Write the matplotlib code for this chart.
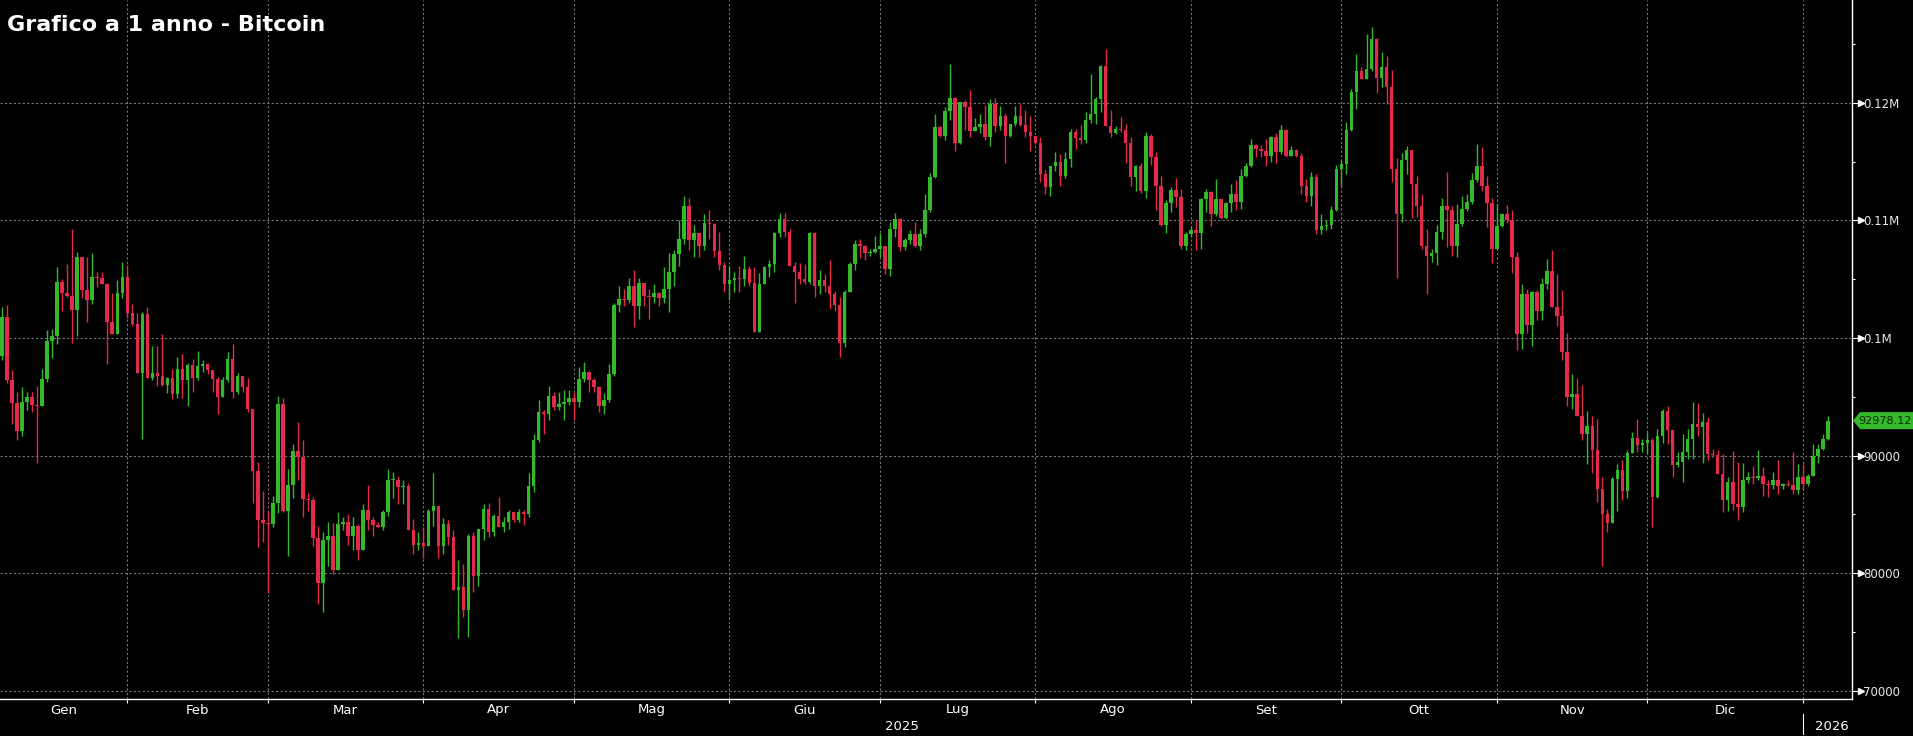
import numpy as np
import pandas as pd
import matplotlib

matplotlib.use("Agg")
import matplotlib.pyplot as plt  # noqa: E402
from matplotlib.patches import Polygon  # noqa: E402
from matplotlib.transforms import blended_transform_factory  # noqa: E402

# === Dati (migliaia di USD, candele giornaliere) ===
START_DATE = "2025-01-06"
TITLE = "Grafico a 1 anno - Bitcoin"

opens_k = [
    98.47, 101.82, 96.43, 94.5, 92.1, 94.6, 95.0, 94.3, 94.2, 96.5,
    99.75, 100.2, 104.8, 103.8, 103.6, 102.4, 106.9, 104.1, 103.2, 105.2,
    105.1, 104.6, 101.4, 100.3, 103.8, 105.2, 102.1, 101.2, 97.0, 102.0,
    96.6, 97.0, 96.8, 96.0, 96.6, 95.2, 97.4, 96.4, 97.7, 96.6,
    97.6, 97.8, 97.3, 96.5, 95.0, 96.4, 98.2, 95.4, 96.8, 95.8,
    94.0, 88.7, 84.5, 84.25, 84.2, 86.0, 94.4, 85.3, 87.5, 90.4,
    89.9, 86.3, 86.2, 83.0, 79.2, 82.8, 83.2, 80.3, 84.2, 84.4,
    83.2, 84.0, 82.0, 85.4, 84.5, 84.1, 83.9, 85.2, 87.9, 87.95,
    87.3, 87.4, 83.7, 82.4, 82.6, 82.3, 85.3, 85.7, 82.3, 84.2,
    83.1, 78.6, 78.8, 76.9, 83.2, 79.8, 83.8, 85.5, 83.5, 84.9,
    83.9, 84.4, 85.2, 84.5, 85.2, 85.0, 87.4, 91.3, 93.7, 93.5,
    95.1, 94.1, 94.4, 94.6, 94.9, 94.6, 96.5, 97.1, 96.4, 95.8,
    94.2, 94.7, 96.9, 102.8, 103.3, 103.2, 104.4, 102.7, 104.7, 103.6,
    103.5, 103.8, 103.4, 104.2, 105.6, 107.1, 108.4, 111.2, 108.3, 108.9,
    107.8, 109.75, 109.7, 107.4, 106.2, 104.6, 104.9, 105.1, 105.0, 105.9,
    104.7, 100.5, 104.6, 106.0, 106.3, 108.9, 110.1, 109.0, 106.1, 105.6,
    105.0, 104.8, 108.95, 104.4, 104.9, 104.4, 103.7, 102.8, 99.6, 103.9,
    106.3, 108.0, 107.8, 107.2, 107.3, 107.6, 107.8, 105.9, 109.3, 110.1,
    107.7, 108.3, 108.8, 107.8, 108.8, 110.9, 113.7, 117.9, 117.2, 119.3,
    120.4, 116.55, 120.1, 119.6, 117.6, 117.9, 118.2, 117.1, 119.9, 118.0,
    118.9, 117.2, 118.2, 118.9, 118.1, 117.5, 117.2, 116.6, 113.9, 112.8,
    114.6, 115.0, 113.8, 115.2, 117.5, 117.0, 116.8, 118.5, 119.0, 120.3,
    123.1, 118.0, 117.4, 117.8, 117.7, 116.6, 113.7, 114.6, 112.5, 117.2,
    115.4, 112.9, 109.6, 111.5, 112.6, 112.0, 107.8, 108.8, 109.2, 108.95,
    111.8, 112.4, 110.5, 111.8, 110.2, 111.5, 112.2, 111.6, 113.8, 114.6,
    116.4, 116.1, 115.9, 115.5, 117.1, 115.8, 117.7, 115.5, 116.0, 115.5,
    112.9, 112.1, 113.7, 109.2, 109.5, 109.6, 110.9, 114.4, 114.8, 117.7,
    120.9, 122.7, 122.0, 122.9, 125.4, 122.1, 123.0, 121.3, 114.4, 110.5,
    115.1, 116.0, 113.1, 111.2, 107.8, 107.0, 107.2, 109.0, 111.2, 110.9,
    107.8, 109.7, 111.0, 111.6, 113.4, 114.6, 112.9, 111.5, 107.6, 109.5,
    110.5, 110.0, 106.9, 100.3, 103.7, 101.1, 103.9, 102.3, 104.6, 105.7,
    102.6, 101.9, 98.8, 95.0, 95.2, 93.4, 91.8, 92.5, 90.5, 87.2,
    85.0, 84.3, 88.0, 88.8, 87.0, 90.2, 91.5, 90.9, 91.1, 91.3,
    86.5, 91.7, 93.8, 92.2, 89.2, 89.5, 90.3, 91.4, 92.7, 92.4,
    92.9, 90.1, 90.05, 88.4, 86.2, 87.8, 85.9, 85.6, 87.9, 88.2,
    88.1, 88.3, 87.6, 87.5, 87.9, 87.4, 87.6, 87.5, 87.1, 88.2,
    87.6, 88.3, 90.0, 90.6, 91.4,
]

highs_k = [
    102.67, 102.8, 97.3, 95.4, 95.8, 95.4, 95.4, 95.9, 97.4, 100.7,
    100.8, 106.0, 105.0, 106.3, 109.3, 107.3, 106.9, 106.9, 107.2, 105.6,
    105.6, 104.7, 103.8, 104.9, 106.5, 106.2, 102.9, 102.1, 102.2, 102.6,
    99.3, 99.3, 100.3, 96.7, 97.4, 98.4, 98.6, 97.9, 98.2, 98.9,
    98.1, 97.9, 97.3, 96.7, 96.7, 98.8, 99.5, 97.0, 96.8, 96.6,
    94.0, 89.5, 87.0, 85.2, 86.6, 95.1, 94.9, 88.9, 91.0, 92.9,
    91.3, 86.8, 86.5, 84.0, 83.5, 84.4, 84.3, 85.2, 84.8, 85.0,
    84.8, 84.2, 85.9, 87.5, 84.8, 84.4, 85.4, 88.9, 88.6, 88.3,
    87.9, 87.7, 84.6, 83.5, 83.9, 85.5, 88.5, 85.7, 84.7, 84.5,
    83.7, 81.1, 80.8, 83.3, 83.5, 83.8, 85.9, 86.0, 85.0, 86.5,
    84.8, 85.4, 85.2, 85.5, 85.4, 88.5, 91.8, 94.7, 93.9, 95.9,
    95.4, 95.4, 95.6, 95.6, 95.4, 97.5, 98.0, 97.2, 96.6, 95.9,
    95.3, 97.8, 102.95, 104.4, 104.2, 105.1, 105.8, 105.1, 104.7, 104.2,
    104.6, 103.9, 106.0, 107.2, 107.5, 110.0, 112.1, 111.9, 109.6, 108.9,
    110.5, 110.9, 109.8, 109.0, 106.5, 106.1, 105.6, 106.1, 107.0, 106.1,
    106.0, 105.5, 106.1, 106.6, 109.0, 110.6, 110.6, 109.3, 106.5, 106.4,
    106.3, 109.0, 109.0, 105.8, 105.4, 106.6, 104.0, 103.5, 104.1, 106.5,
    108.3, 108.4, 107.9, 107.6, 108.7, 108.9, 107.8, 109.9, 110.6, 110.2,
    108.5, 109.2, 109.9, 109.3, 112.2, 114.0, 119.0, 118.0, 119.6, 123.3,
    120.5, 120.1, 120.2, 121.1, 118.7, 119.0, 119.8, 120.3, 120.4, 119.7,
    119.1, 118.2, 119.7, 119.9, 119.4, 118.9, 117.2, 117.1, 114.3, 114.6,
    115.8, 115.6, 115.8, 117.8, 117.8, 118.1, 119.2, 122.4, 120.5, 123.2,
    124.6, 119.4, 118.0, 118.8, 118.2, 117.1, 114.7, 114.9, 117.5, 117.3,
    115.8, 113.8, 111.7, 112.8, 113.6, 112.7, 109.0, 109.5, 110.0, 111.9,
    112.7, 112.5, 113.5, 111.8, 111.6, 113.1, 113.4, 114.4, 114.9, 116.9,
    116.5, 116.4, 116.9, 117.2, 117.4, 118.1, 117.8, 116.3, 116.1, 115.7,
    113.5, 114.1, 113.9, 110.5, 110.0, 111.2, 114.7, 115.1, 118.4, 121.2,
    124.1, 123.0, 125.8, 126.4, 125.5, 124.3, 124.0, 122.8, 115.3, 115.7,
    116.3, 116.0, 113.8, 112.2, 109.3, 107.6, 109.6, 111.9, 114.1, 111.2,
    111.4, 112.1, 112.2, 114.0, 116.5, 116.2, 113.8, 111.9, 111.4, 110.6,
    111.3, 110.9, 107.3, 104.6, 104.2, 104.0, 104.1, 105.1, 106.7, 107.5,
    105.4, 104.1, 100.4, 96.9, 96.6, 96.0, 93.8, 93.4, 93.1, 88.2,
    85.5, 88.2, 89.3, 89.6, 90.5, 92.0, 93.1, 91.4, 92.0, 91.5,
    92.3, 94.0, 94.2, 92.2, 90.3, 91.8, 92.3, 94.6, 94.5, 93.6,
    93.3, 90.6, 90.5, 90.1, 88.2, 90.4, 89.5, 89.4, 88.6, 89.1,
    90.5, 89.0, 87.9, 88.6, 89.6, 87.7, 87.9, 90.3, 89.3, 89.3,
    88.4, 91.0, 91.0, 91.8, 93.4,
]

lows_k = [
    98.13, 96.2, 92.7, 91.3, 91.7, 93.9, 93.7, 89.4, 94.2, 96.3,
    98.3, 99.5, 102.3, 103.5, 99.6, 100.2, 103.4, 101.4, 102.9, 104.3,
    104.6, 97.8, 100.3, 100.3, 103.4, 101.7, 101.0, 97.0, 91.4, 96.6,
    96.4, 95.9, 95.9, 95.3, 94.8, 94.9, 94.9, 94.2, 95.4, 96.4,
    97.1, 96.9, 95.4, 93.5, 95.0, 96.3, 94.9, 95.2, 95.4, 93.7,
    86.0, 82.2, 82.7, 78.3, 83.9, 85.1, 85.2, 81.5, 86.4, 87.9,
    84.8, 85.3, 82.3, 77.4, 76.7, 80.6, 79.9, 80.3, 83.7, 82.4,
    82.0, 81.1, 82.0, 83.7, 83.2, 83.9, 83.7, 84.9, 86.4, 85.9,
    85.9, 83.7, 81.6, 82.0, 81.3, 82.3, 84.0, 81.3, 81.6, 82.4,
    78.6, 74.5, 76.3, 74.6, 78.4, 78.9, 82.8, 83.1, 83.2, 83.9,
    83.5, 83.8, 84.4, 84.4, 84.1, 84.8, 86.9, 91.2, 91.8, 93.0,
    93.9, 93.9, 93.0, 94.3, 93.0, 94.1, 96.3, 95.4, 95.4, 93.7,
    93.5, 94.6, 96.8, 102.2, 102.7, 102.95, 100.9, 101.6, 102.7, 101.6,
    102.95, 102.7, 103.0, 102.2, 104.4, 106.1, 108.0, 107.5, 106.9, 106.9,
    107.5, 108.4, 106.9, 105.8, 103.9, 103.2, 103.9, 103.9, 104.4, 104.4,
    100.5, 100.5, 104.6, 105.2, 105.6, 108.6, 108.6, 106.1, 102.95, 104.6,
    104.6, 104.6, 103.5, 103.7, 103.9, 102.5, 102.3, 98.4, 99.2, 103.9,
    105.8, 106.8, 106.6, 107.0, 107.2, 106.9, 105.4, 105.3, 108.6, 107.4,
    107.5, 108.0, 107.7, 107.5, 108.6, 110.7, 113.6, 117.1, 116.8, 118.5,
    115.9, 116.5, 117.7, 117.1, 117.6, 117.4, 116.8, 116.3, 117.5, 117.7,
    114.9, 117.1, 118.0, 118.0, 117.1, 115.9, 116.5, 113.3, 112.2, 112.1,
    114.2, 112.9, 113.6, 114.5, 116.1, 116.5, 116.6, 118.3, 118.2, 119.2,
    118.0, 117.1, 117.3, 117.5, 114.9, 112.9, 112.5, 112.3, 111.9, 114.7,
    110.9, 109.5, 108.9, 110.7, 111.1, 107.6, 107.5, 108.6, 107.5, 107.6,
    110.7, 109.5, 110.4, 110.1, 110.1, 110.7, 110.9, 111.0, 113.7, 114.5,
    115.4, 115.4, 114.6, 115.0, 114.9, 115.6, 115.4, 115.5, 115.4, 112.2,
    111.6, 111.2, 108.8, 108.8, 109.2, 109.3, 110.8, 112.9, 113.9, 117.6,
    119.5, 122.0, 122.0, 122.7, 120.8, 121.3, 119.9, 113.3, 105.1, 109.9,
    113.9, 110.2, 110.3, 107.6, 103.7, 106.5, 106.2, 108.4, 107.7, 107.0,
    106.9, 109.5, 110.8, 111.4, 113.3, 112.5, 109.4, 106.4, 107.6, 109.4,
    109.8, 105.5, 99.0, 99.1, 100.4, 99.3, 101.5, 101.5, 104.2, 102.6,
    101.0, 98.1, 94.2, 94.0, 93.4, 91.3, 89.3, 88.5, 86.1, 80.6,
    83.5, 84.3, 85.3, 86.2, 86.4, 90.2, 90.3, 90.3, 90.2, 83.9,
    86.4, 91.1, 91.0, 88.2, 89.0, 87.8, 89.7, 89.7, 91.7, 89.4,
    89.6, 89.9, 88.4, 85.2, 85.3, 85.4, 84.5, 85.2, 87.7, 87.6,
    87.9, 86.6, 86.5, 87.2, 86.7, 87.2, 87.4, 86.7, 86.7, 87.1,
    87.4, 88.3, 89.4, 90.5, 91.3,
]

closes_k = [
    101.82, 96.43, 94.5, 92.1, 94.6, 95.0, 94.3, 94.2, 96.5, 99.75,
    100.2, 104.8, 103.8, 103.6, 102.4, 106.9, 104.1, 103.2, 105.2, 105.1,
    104.6, 101.4, 100.3, 103.8, 105.2, 102.1, 101.2, 97.0, 102.0, 96.6,
    97.0, 96.8, 96.0, 96.6, 95.2, 97.4, 96.4, 97.7, 96.6, 97.6,
    97.8, 97.3, 96.5, 95.0, 96.4, 98.2, 95.4, 96.8, 95.8, 94.0,
    88.7, 84.5, 84.25, 84.2, 86.0, 94.4, 85.3, 87.5, 90.4, 89.9,
    86.3, 86.2, 83.0, 79.2, 82.8, 83.2, 80.3, 84.2, 84.4, 83.2,
    84.0, 82.0, 85.4, 84.5, 84.1, 83.9, 85.2, 87.9, 87.95, 87.3,
    87.4, 83.7, 82.4, 82.6, 82.3, 85.3, 85.7, 82.3, 84.2, 83.1,
    78.6, 78.8, 76.9, 83.2, 79.8, 83.8, 85.5, 83.5, 84.9, 83.9,
    84.4, 85.2, 84.5, 85.2, 85.0, 87.4, 91.3, 93.7, 93.5, 95.1,
    94.1, 94.4, 94.6, 94.9, 94.6, 96.5, 97.1, 96.4, 95.8, 94.2,
    94.7, 96.9, 102.8, 103.3, 103.2, 104.4, 102.7, 104.7, 103.6, 103.5,
    103.8, 103.4, 104.2, 105.6, 107.1, 108.4, 111.2, 108.3, 108.9, 107.8,
    109.75, 109.7, 107.4, 106.2, 104.6, 104.9, 105.1, 105.0, 105.9, 104.7,
    100.5, 104.6, 106.0, 106.3, 108.9, 110.1, 109.0, 106.1, 105.6, 105.0,
    104.8, 108.95, 104.4, 104.9, 104.4, 103.7, 102.8, 99.6, 103.9, 106.3,
    108.0, 107.8, 107.2, 107.3, 107.6, 107.8, 105.9, 109.3, 110.1, 107.7,
    108.3, 108.8, 107.8, 108.8, 110.9, 113.7, 117.9, 117.2, 119.3, 120.4,
    116.55, 120.1, 119.6, 117.6, 117.9, 118.2, 117.1, 119.9, 118.0, 118.9,
    117.2, 118.2, 118.9, 118.1, 117.5, 117.2, 116.6, 113.9, 112.8, 114.6,
    115.0, 113.8, 115.2, 117.5, 117.0, 116.8, 118.5, 119.0, 120.3, 123.1,
    118.0, 117.4, 117.8, 117.7, 116.6, 113.7, 114.6, 112.5, 117.2, 115.4,
    112.9, 109.6, 111.5, 112.6, 112.0, 107.8, 108.8, 109.2, 108.95, 111.8,
    112.4, 110.5, 111.8, 110.2, 111.5, 112.2, 111.6, 113.8, 114.6, 116.4,
    116.1, 115.9, 115.5, 117.1, 115.8, 117.7, 115.5, 116.0, 115.5, 112.9,
    112.1, 113.7, 109.2, 109.5, 109.6, 110.9, 114.4, 114.8, 117.7, 120.9,
    122.7, 122.0, 122.9, 125.4, 122.1, 123.0, 121.3, 114.4, 110.5, 115.1,
    116.0, 113.1, 111.2, 107.8, 107.0, 107.2, 109.0, 111.2, 110.9, 107.8,
    109.7, 111.0, 111.6, 113.4, 114.6, 112.9, 111.5, 107.6, 109.5, 110.5,
    110.0, 106.9, 100.3, 103.7, 101.1, 103.9, 102.3, 104.6, 105.7, 102.6,
    101.9, 98.8, 95.0, 95.2, 93.4, 91.8, 92.5, 90.5, 87.2, 85.0,
    84.3, 88.0, 88.8, 87.0, 90.2, 91.5, 90.9, 91.1, 91.3, 86.5,
    91.7, 93.8, 92.2, 89.2, 89.5, 90.3, 91.4, 92.7, 92.4, 92.9,
    90.1, 90.05, 88.4, 86.2, 87.8, 85.9, 85.6, 87.9, 88.2, 88.1,
    88.3, 87.6, 87.5, 87.9, 87.4, 87.6, 87.5, 87.1, 88.2, 87.6,
    88.3, 90.0, 90.6, 91.4, 92.97812,
]

MONTH_LABELS = ["Gen", "Feb", "Mar", "Apr", "Mag", "Giu",
                "Lug", "Ago", "Set", "Ott", "Nov", "Dic"]
Y_TICKS = [70000, 80000, 90000, 100000, 110000, 120000]
Y_TICK_LABELS = ["70000", "80000", "90000", "0.1M", "0.11M", "0.12M"]
Y_MINOR = [75000, 85000, 95000, 105000, 115000, 125000]

# === Stile ===
W, H = 1913, 736
GREEN = "#33b929"
RED = "#e32a4b"
GRID = "#777777"
NARROW = ["Liberation Sans Narrow", "DejaVu Sans"]

o = np.array(opens_k) * 1000
h = np.array(highs_k) * 1000
lo = np.array(lows_k) * 1000
c = np.array(closes_k) * 1000
dates = pd.date_range(START_DATE, periods=len(c), freq="D")
x = np.arange(len(c))
colors = np.where(c >= o, GREEN, RED)

fig = plt.figure(figsize=(W / 100, H / 100), dpi=100, facecolor="black")
ax_right, ax_bottom = 1852, 699
ax = fig.add_axes([0, 1 - ax_bottom / H, ax_right / W, ax_bottom / H])
ax.set_facecolor("black")
ax.set_xlim(-0.375, 368.77)
ax.set_ylim(69315, 128730)

# griglia
month_end = np.where(dates.is_month_end)[0]
for xe in month_end:
    ax.axvline(xe, color=GRID, lw=0.8, ls=(0, (2, 2)), zorder=0)
for yt in Y_TICKS:
    ax.axhline(yt, color=GRID, lw=0.8, ls=(0, (2, 2)), zorder=0)

# candele
ax.vlines(x, lo, h, colors=colors, lw=1.0, zorder=2)
body = np.maximum(np.abs(c - o), 90)
ax.bar(x, body, bottom=np.minimum(o, c), width=0.7, color=colors,
       edgecolor="none", zorder=3)

# assi
for side in ("top", "left"):
    ax.spines[side].set_visible(False)
for side in ("right", "bottom"):
    ax.spines[side].set_color("white")
    ax.spines[side].set_linewidth(1.0)

ax.yaxis.tick_right()
ax.set_yticks(Y_TICKS)
ax.set_yticklabels(Y_TICK_LABELS)
ax.set_yticks(Y_MINOR, minor=True)
ax.tick_params(axis="y", which="major", colors="white", length=6.5,
               width=0.8, pad=1.5, labelsize=8.5, labelcolor="#e8e8e8")
ax.tick_params(axis="y", which="minor", colors="white", length=2.5, width=0.8)
ax.set_xticks(month_end)
ax.set_xticklabels([])
ax.tick_params(axis="x", colors="white", length=3, width=0.8)

# frecce sui tick principali
tr_y = blended_transform_factory(ax.transAxes, ax.transData)
ax.plot([1 + 8.5 / ax_right] * len(Y_TICKS), Y_TICKS, ls="none", marker=">",
        ms=4, color="white", transform=tr_y, clip_on=False)

# etichette dei mesi e degli anni
tr_x = blended_transform_factory(ax.transData, fig.transFigure)
bounds = [ax.get_xlim()[0]] + list(month_end)
for name, a, b in zip(MONTH_LABELS, bounds[:-1], bounds[1:]):
    ax.text((a + b) / 2, 1 - 710 / H, name, transform=tr_x, ha="center",
            va="center", color="white", fontsize=9.5, family=NARROW)
year_end = month_end[-1]
ax.text((ax.get_xlim()[0] + year_end) / 2, 1 - 726 / H, str(dates[0].year),
        transform=tr_x, ha="center", va="center", color="white",
        fontsize=9.5, family=NARROW)
ax.text((year_end + ax.get_xlim()[1]) / 2 + 0.8, 1 - 726 / H,
        str(dates[-1].year), transform=tr_x, ha="center", va="center",
        color="white", fontsize=9.5, family=NARROW)
ax.plot([year_end, year_end], [1 - 714 / H, 1 - 734 / H], color="white",
        lw=0.8, transform=tr_x, clip_on=False)

# etichetta ultimo prezzo
last = c[-1]
y_last = ax.transData.transform((0, last))[1] / (H)
pts = [(1853, 0), (1860, -8.5), (W + 2, -8.5), (W + 2, 8.5), (1860, 8.5)]
poly = Polygon([(px / W, y_last + py / H) for px, py in pts], closed=True,
               transform=fig.transFigure, facecolor=GREEN, edgecolor="none")
fig.patches.append(poly)
fig.text(1858 / W, y_last, f"{last:.2f}", ha="left", va="center",
         color="#0b2a06", fontsize=8)

# titolo
fig.text(7 / W, 1 - 25 / H, TITLE, ha="left", va="center", color="white",
         fontsize=16, fontweight="bold")

fig.savefig("out.png", dpi=100, facecolor="black")
